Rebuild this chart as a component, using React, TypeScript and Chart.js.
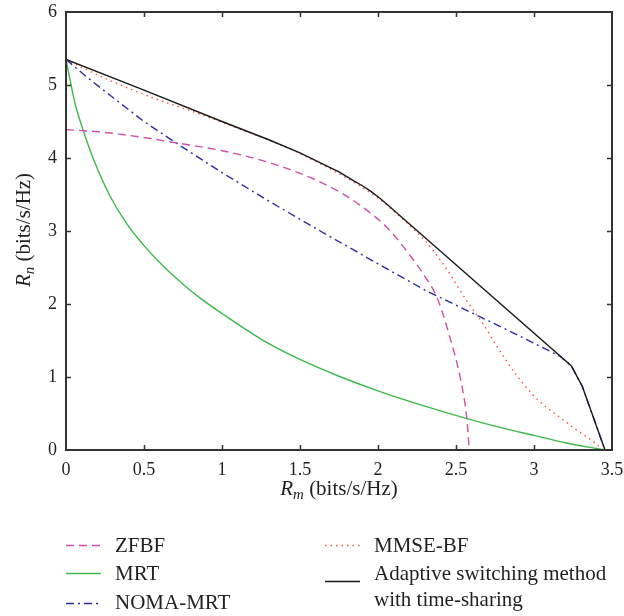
import React, { useEffect, useRef } from 'react';
import { Chart, registerables } from 'chart.js';
Chart.register(...registerables);

const xTicks = [0, 0.5, 1, 1.5, 2, 2.5, 3, 3.5];
const yTicks = [0, 1, 2, 3, 4, 5, 6];

const zfbfX = [0, 0.25, 0.5, 0.67, 1.0, 1.25, 1.5, 1.65, 1.82, 1.9, 1.99, 2.08, 2.2, 2.3, 2.38, 2.46, 2.53, 2.57, 2.585];
const zfbfY = [4.39, 4.35, 4.28, 4.22, 4.1, 3.97, 3.79, 3.65, 3.45, 3.33, 3.18, 3.0, 2.68, 2.38, 2.08, 1.55, 0.96, 0.42, 0];

const mrtX = [0, 0.026, 0.06, 0.11, 0.175, 0.282, 0.389, 0.5, 0.6, 0.75, 0.86, 1.0, 1.25, 1.5, 1.75, 2.0, 2.3, 2.57, 2.8, 3.0, 3.2, 3.455];
const mrtY = [5.35, 5.07, 4.73, 4.38, 3.99, 3.48, 3.1, 2.8, 2.57, 2.27, 2.08, 1.87, 1.52, 1.24, 1.01, 0.81, 0.6, 0.43, 0.3, 0.2, 0.1, 0];

const nomaX = [0, 0.15, 0.33, 0.5, 0.71, 1.0, 1.3, 1.63, 2.0, 2.31, 2.61, 2.9, 3.17, 3.24, 3.31, 3.455];
const nomaY = [5.35, 5.08, 4.78, 4.5, 4.2, 3.8, 3.41, 3.0, 2.55, 2.18, 1.87, 1.57, 1.28, 1.15, 0.87, 0];

const mmseX = [0, 0.2, 0.5, 0.86, 1.0, 1.5, 2.0, 2.2, 2.3, 2.43, 2.57, 2.67, 2.78, 2.89, 2.99, 3.06, 3.12, 3.19, 3.25, 3.33, 3.39, 3.44];
const mmseY = [5.35, 5.14, 4.87, 4.6, 4.49, 4.06, 3.45, 3.08, 2.87, 2.51, 2.04, 1.74, 1.36, 1.02, 0.76, 0.62, 0.52, 0.41, 0.31, 0.19, 0.1, 0];

const adaptX = [0, 0.5, 1.0, 1.3, 1.5, 1.7, 1.75, 1.85, 1.9, 1.95, 2.0, 2.05, 3.24, 3.31, 3.455];
const adaptY = [5.35, 4.93, 4.5, 4.25, 4.07, 3.86, 3.81, 3.68, 3.62, 3.55, 3.47, 3.38, 1.15, 0.87, 0];

const seriesNames = ['ZFBF', 'MRT', 'NOMA-MRT', 'MMSE-BF', 'Adaptive switching method', 'with time-sharing'];

const C_ZFBF = '#cf4fa9';
const C_MRT = '#3db84b';
const C_NOMA = '#2e2c9c';
const C_MMSE = '#f4553a';
const C_ADAPT = '#1a1a1a';
const TEXT = '#231f20';
const SERIF = '"Liberation Serif", "Times New Roman", serif';

const pts = (xs: number[], ys: number[]) => xs.map((x, i) => ({ x, y: ys[i] }));

const framePlugin = {
  id: 'frame',
  afterDraw(chart: any) {
    const { ctx, chartArea: a, scales } = chart;
    const x = scales.x;
    const y = scales.y;
    ctx.save();
    ctx.strokeStyle = '#333';
    ctx.lineWidth = 1.5;
    ctx.beginPath();
    xTicks.forEach((v) => {
      if (v <= 0 || v >= 3.5) return;
      const px = Math.round(x.getPixelForValue(v)) + 0.5;
      ctx.moveTo(px, a.bottom);
      ctx.lineTo(px, a.bottom - 5);
      ctx.moveTo(px, a.top);
      ctx.lineTo(px, a.top + 5);
    });
    yTicks.forEach((v) => {
      if (v <= 0 || v >= 6) return;
      const py = Math.round(y.getPixelForValue(v)) + 0.5;
      ctx.moveTo(a.left, py);
      ctx.lineTo(a.left + 5, py);
      ctx.moveTo(a.right, py);
      ctx.lineTo(a.right - 5, py);
    });
    ctx.stroke();
    ctx.lineWidth = 2;
    ctx.strokeRect(a.left, a.top, a.right - a.left, a.bottom - a.top);

    ctx.fillStyle = TEXT;
    ctx.textBaseline = 'alphabetic';
    const drawTitle = (sub: string, cx: number, cy: number) => {
      const big = '21px ' + SERIF;
      const bigIt = 'italic 21px ' + SERIF;
      const subIt = 'italic 15px ' + SERIF;
      ctx.font = bigIt;
      const wR = ctx.measureText('R').width;
      ctx.font = subIt;
      const wS = ctx.measureText(sub).width;
      ctx.font = big;
      const wT = ctx.measureText(' (bits/s/Hz)').width;
      const total = wR + wS + wT;
      let sx = cx - total / 2;
      ctx.textAlign = 'left';
      ctx.font = bigIt;
      ctx.fillText('R', sx, cy);
      sx += wR;
      ctx.font = subIt;
      ctx.fillText(sub, sx, cy + 4);
      sx += wS;
      ctx.font = big;
      ctx.fillText(' (bits/s/Hz)', sx, cy);
    };
    drawTitle('m', 339, 495);
    ctx.save();
    ctx.translate(30, 230);
    ctx.rotate(-Math.PI / 2);
    drawTitle('n', 0, 0);
    ctx.restore();

    const items = [
      { label: [seriesNames[0]], color: C_ZFBF, dash: [8, 5], lx: 66, ly: 545, ty: 552 },
      { label: [seriesNames[1]], color: C_MRT, dash: [], lx: 66, ly: 573, ty: 580 },
      { label: [seriesNames[2]], color: C_NOMA, dash: [8, 4, 2, 4], lx: 66, ly: 603, ty: 609 },
      { label: [seriesNames[3]], color: C_MMSE, dash: [1.5, 4], lx: 325, ly: 545, ty: 552 },
      { label: [seriesNames[4], seriesNames[5]], color: C_ADAPT, dash: [], lx: 325, ly: 581, ty: 580 },
    ];
    ctx.font = '21px ' + SERIF;
    ctx.textAlign = 'left';
    items.forEach((it) => {
      ctx.beginPath();
      ctx.strokeStyle = it.color;
      ctx.lineWidth = 1.5;
      ctx.setLineDash(it.dash);
      ctx.moveTo(it.lx, it.ly + 0.5);
      ctx.lineTo(it.lx + 35, it.ly + 0.5);
      ctx.stroke();
      ctx.setLineDash([]);
      ctx.fillStyle = TEXT;
      it.label.forEach((t, i) => ctx.fillText(t, it.lx + 49, it.ty + i * 26));
    });
    ctx.restore();
  },
};

const zeroPad = (s: any) => {
  s.paddingLeft = 0;
  s.paddingRight = 0;
  s.paddingTop = 0;
  s.paddingBottom = 0;
};

export default function App() {
  const ref = useRef<HTMLCanvasElement | null>(null);
  useEffect(() => {
    if (!ref.current) return;
    const common = { pointRadius: 0, pointHoverRadius: 0, fill: false, borderWidth: 1.4 };
    const chart = new Chart(ref.current, {
      type: 'line',
      data: {
        datasets: [
          { ...common, label: 'ZFBF', data: pts(zfbfX, zfbfY), borderColor: C_ZFBF, borderDash: [8, 5], cubicInterpolationMode: 'monotone', order: 2 },
          { ...common, label: 'MRT', data: pts(mrtX, mrtY), borderColor: C_MRT, cubicInterpolationMode: 'monotone', order: 4 },
          { ...common, label: 'NOMA-MRT', data: pts(nomaX, nomaY), borderColor: C_NOMA, borderDash: [8, 4, 2, 4], tension: 0, order: 3 },
          { ...common, label: 'MMSE-BF', data: pts(mmseX, mmseY), borderColor: C_MMSE, borderDash: [1.5, 4], cubicInterpolationMode: 'monotone', order: 1 },
          { ...common, label: 'Adaptive switching method with time-sharing', data: pts(adaptX, adaptY), borderColor: C_ADAPT, tension: 0, order: 0 },
        ],
      },
      options: {
        animation: false,
        responsive: false,
        maintainAspectRatio: false,
        layout: { padding: { top: 12, right: 12, left: 0, bottom: 0 } },
        plugins: { legend: { display: false }, tooltip: { enabled: false } },
        scales: {
          x: {
            type: 'linear',
            min: 0,
            max: 3.5,
            afterFit: (s: any) => { s.height = 166; zeroPad(s); },
            afterBuildTicks: (s: any) => { s.ticks = xTicks.map((v) => ({ value: v })); },
            grid: { display: false, drawTicks: false },
            border: { display: false },
            ticks: { font: { family: SERIF, size: 18 }, color: TEXT, padding: 9, maxRotation: 0, autoSkip: false, callback: (v: any) => String(v) },
          },
          y: {
            type: 'linear',
            min: 0,
            max: 6,
            afterFit: (s: any) => { s.width = 66; zeroPad(s); },
            afterBuildTicks: (s: any) => { s.ticks = yTicks.map((v) => ({ value: v })); },
            grid: { display: false, drawTicks: false },
            border: { display: false },
            ticks: { font: { family: SERIF, size: 18 }, color: TEXT, padding: 9, autoSkip: false, callback: (v: any) => String(v) },
          },
        },
      },
      plugins: [framePlugin],
    } as any);
    return () => chart.destroy();
  }, []);
  return (
    <div style={{ position: 'absolute', left: 0, top: 0, width: 624, height: 616, background: '#fff' }}>
      <canvas ref={ref} width={624} height={616} style={{ display: 'block' }} />
    </div>
  );
}
